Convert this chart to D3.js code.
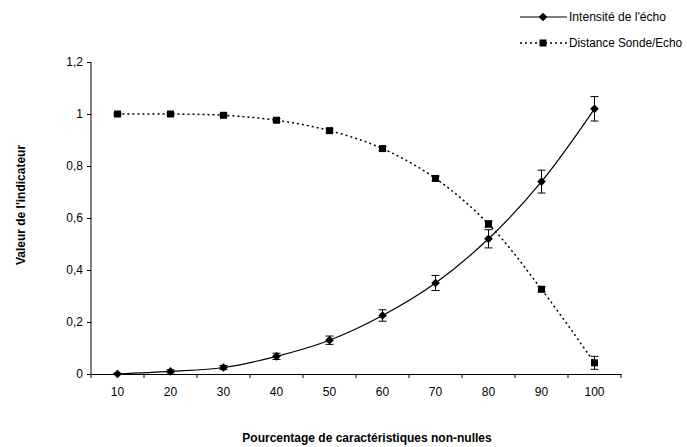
<!DOCTYPE html>
<html>
<head>
<meta charset="utf-8">
<script src="https://cdn.jsdelivr.net/npm/d3@7"></script>
<style>
  body { margin: 0; background: #fff; }
  text { font-family: "Liberation Sans", Arial, sans-serif; fill: #000; }
</style>
</head>
<body>
<svg width="687" height="447"></svg>
<script>
// percentages of non-null features
const categories = [10, 20, 30, 40, 50, 60, 70, 80, 90, 100]
const intensite = [0, 0.01, 0.025, 0.068, 0.13, 0.225, 0.35, 0.52, 0.74, 1.02]
const intensiteErr = [0.003, 0.006, 0.008, 0.012, 0.016, 0.022, 0.029, 0.035, 0.044, 0.047]
const distance = [1.0, 1.0, 0.995, 0.976, 0.936, 0.867, 0.752, 0.577, 0.326, 0.043]
const distanceErr = [0.004, 0.004, 0.005, 0.006, 0.007, 0.008, 0.009, 0.012, 0.01, 0.025]
const yTicks = [0, 0.2, 0.4, 0.6, 0.8, 1, 1.2]
const seriesNames = ["Intensité de l'écho", "Distance Sonde/Echo"]

const svg = d3.select('svg')
const x = d3.scaleBand().domain(categories).range([91, 621])
const y = d3.scaleLinear().domain([0, 1.2]).range([374, 62])
const fmt = d => String(d).replace('.', ',')

// axes
const xAxis = d3.axisBottom(x).tickSize(0).tickFormat(d => d)
const gx = svg.append('g').attr('transform', 'translate(0,374)').call(xAxis)
gx.select('.domain').attr('stroke', '#000')
gx.selectAll('text').attr('font-size', 12).attr('dy', '1.55em')
// tick marks between categories
gx.selectAll('line.sep')
    .data(categories.map((c, i) => x(c)).concat([x.range()[1]]))
    .enter().append('line')
    .attr('x1', d => d).attr('x2', d => d)
    .attr('y1', 0).attr('y2', 4)
    .attr('stroke', '#000')

const yAxis = d3.axisLeft(y).tickValues(yTicks).tickSize(4).tickPadding(4).tickFormat(fmt)
const gy = svg.append('g').attr('transform', 'translate(91,0)').call(yAxis)
gy.select('.domain').attr('d', 'M0,' + y(1.2) + 'V' + y(0))
gy.selectAll('text').attr('font-size', 12)
svg.selectAll('.domain, .tick line').attr('stroke', '#000')

const cx = d => x(d) + x.bandwidth() / 2
// smoothed lines like the spreadsheet
const line = d3.line().x((d, i) => cx(categories[i])).y(d => y(d)).curve(d3.curveCatmullRom)

// Distance Sonde/Echo
svg.append('path')
    .attr('d', line(distance))
    .attr('fill', 'none').attr('stroke', '#000').attr('stroke-width', 1.5)
    .attr('stroke-dasharray', '2,3')

// Intensité
svg.append('path')
    .attr('d', line(intensite))
    .attr('fill', 'none').attr('stroke', '#000').attr('stroke-width', 1.2)

function errBars(vals, errs) {
    const g = svg.append('g').attr('stroke', '#000').attr('stroke-width', 1)
    vals.forEach((v, i) => {
        const px = cx(categories[i])
        const top = y(v + errs[i]), bot = y(Math.max(0, v - errs[i]))
        g.append('line').attr('x1', px).attr('x2', px).attr('y1', top).attr('y2', bot)
        g.append('line').attr('x1', px - 4).attr('x2', px + 4).attr('y1', top).attr('y2', top)
        g.append('line').attr('x1', px - 4).attr('x2', px + 4).attr('y1', bot).attr('y2', bot)
    })
}
errBars(intensite, intensiteErr)
errBars(distance, distanceErr)

const diamond = d3.symbol().type(d3.symbolDiamond2).size(48)
svg.selectAll('path.diamond')
    .data(intensite).enter().append('path')
    .attr('class', 'diamond')
    .attr('d', diamond)
    .attr('transform', (d, i) => `translate(${cx(categories[i])},${y(d)})`)
    .attr('fill', '#000')

svg.selectAll('rect.sq')
    .data(distance).enter().append('rect')
    .attr('class', 'sq')
    .attr('x', (d, i) => cx(categories[i]) - 3.5)
    .attr('y', d => y(d) - 3.5)
    .attr('width', 7).attr('height', 7)
    .attr('fill', '#000')

// axis titles
svg.append('text')
    .attr('x', 367).attr('y', 442)
    .attr('text-anchor', 'middle')
    .attr('font-size', 12).attr('font-weight', 'bold')
    .text('Pourcentage de caractéristiques non-nulles')
svg.append('text')
    .attr('transform', 'translate(25,205) rotate(-90)')
    .attr('text-anchor', 'middle')
    .attr('font-size', 12).attr('font-weight', 'bold')
    .text("Valeur de l'indicateur")

// legend
const legend = svg.append('g')
legend.append('line').attr('x1', 520).attr('x2', 567).attr('y1', 17).attr('y2', 17)
    .attr('stroke', '#000').attr('stroke-width', 1.2)
legend.append('path').attr('d', diamond).attr('transform', 'translate(543,17)')
legend.append('line').attr('x1', 520).attr('x2', 567).attr('y1', 43).attr('y2', 43)
    .attr('stroke', '#000').attr('stroke-width', 1.5).attr('stroke-dasharray', '2,3')
legend.append('rect').attr('x', 539.5).attr('y', 39.5).attr('width', 7).attr('height', 7)
legend.selectAll('text.lg')
    .data(seriesNames).enter().append('text')
    .attr('x', 569).attr('y', (d, i) => 21 + i * 26)
    .attr('font-size', 12)
    .attr('textLength', (d, i) => i === 0 ? 97 : 113)
    .attr('lengthAdjust', 'spacingAndGlyphs')
    .text(d => d)
</script>
</body>
</html>
